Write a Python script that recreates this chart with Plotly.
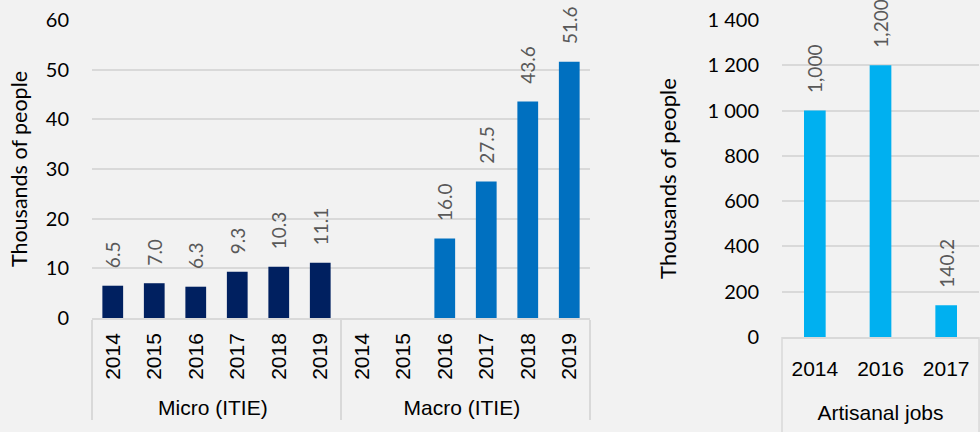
import plotly.graph_objects as go

# Data
years = ["2014", "2015", "2016", "2017", "2018", "2019"]
micro_group = "Micro (ITIE)"
macro_group = "Macro (ITIE)"
micro_values = [6.5, 7.0, 6.3, 9.3, 10.3, 11.1]
macro_values = [None, None, 16.0, 27.5, 43.6, 51.6]

artisanal_group = "Artisanal jobs"
artisanal_years = ["2014", "2016", "2017"]
artisanal_values = [1000, 1200, 140.2]

y_title = "Thousands of people"

BG = "#F2F2F2"
GRID = "#D9D9D9"
FONT = "Lato, Liberation Sans, sans-serif"
CAT_FONT = "Liberation Sans, Arial, sans-serif"
PAD = "\u00a0\u00a0\u00a0"  # lifts the rotated value labels off the bar tops


def label(v):
    if v is None:
        return None
    s = f"{v:,.0f}" if v >= 1000 else f"{v:.1f}"
    return PAD + s


fig = go.Figure()

# Left chart: multilevel category axis (group, year)
fig.add_trace(go.Bar(
    x=[[micro_group] * len(years), years], y=micro_values,
    marker_color="#002060", text=[label(v) for v in micro_values],
    xaxis="x", yaxis="y",
))
fig.add_trace(go.Bar(
    x=[[macro_group] * len(years), years], y=macro_values,
    marker_color="#0070C0", text=[label(v) for v in macro_values],
    xaxis="x", yaxis="y",
))

# Right chart: single group, so the group name is the axis title
fig.add_trace(go.Bar(
    x=artisanal_years, y=artisanal_values,
    marker_color="#00B0F0", text=[label(v) for v in artisanal_values],
    xaxis="x2", yaxis="y2", width=0.33,
))

fig.update_traces(
    textposition="outside", textangle=-90, cliponaxis=False, constraintext="none",
    textfont=dict(color="#595959", size=19, family=FONT),
    marker_line_width=0,
)

# box lines around the right category block (like the left dividers)
for xd in (0, 1):
    fig.add_shape(type="line", xref="x2 domain", yref="paper",
                  x0=xd, x1=xd, y0=0, y1=(432 - 337) / 432,
                  line=dict(color=GRID, width=1.5))

fig.update_layout(
    width=980, height=432,
    margin=dict(l=0, r=0, t=0, b=0),
    paper_bgcolor=BG, plot_bgcolor=BG,
    showlegend=False,
    barmode="overlay", bargap=0.5,
    separators=". ",
    font=dict(family=FONT, size=20, color="#000000"),
    xaxis=dict(
        domain=[92 / 980, 590 / 980], type="multicategory",
        tickangle=-90, showline=True, linecolor=GRID, linewidth=1.5,
        showdividers=True, dividercolor=GRID, dividerwidth=1.5,
        ticks="", showgrid=False, automargin=False, ticklabelstandoff=5,
        tickfont=dict(size=21, family=CAT_FONT),
    ),
    yaxis=dict(
        domain=[(432 - 318) / 432, (432 - 20) / 432], range=[0, 60], dtick=10,
        gridcolor=GRID, gridwidth=1.5, zeroline=False, automargin=False,
        title=dict(text=y_title, standoff=12, font=dict(size=21.5)),
        ticks="", ticklabelstandoff=22,
    ),
    xaxis2=dict(
        domain=[782 / 980, 0.999], type="category", anchor="y2",
        tickangle=0, showline=True, linecolor=GRID, linewidth=1.5,
        ticks="", showgrid=False, automargin=False, ticklabelstandoff=12,
        tickfont=dict(size=21, family=CAT_FONT),
        title=dict(text=artisanal_group, standoff=26,
                   font=dict(size=21, family=CAT_FONT)),
    ),
    yaxis2=dict(
        domain=[(432 - 337) / 432, (432 - 20) / 432], range=[0, 1400], dtick=200,
        anchor="x2", separatethousands=True,
        gridcolor=GRID, gridwidth=1.5, zeroline=False, automargin=False,
        title=dict(text=y_title, standoff=24, font=dict(size=22)),
        ticks="", ticklabelstandoff=22,
    ),
)

fig.write_html("out.html", config={"displayModeBar": False},
               post_script="document.body.style.margin='0';")
